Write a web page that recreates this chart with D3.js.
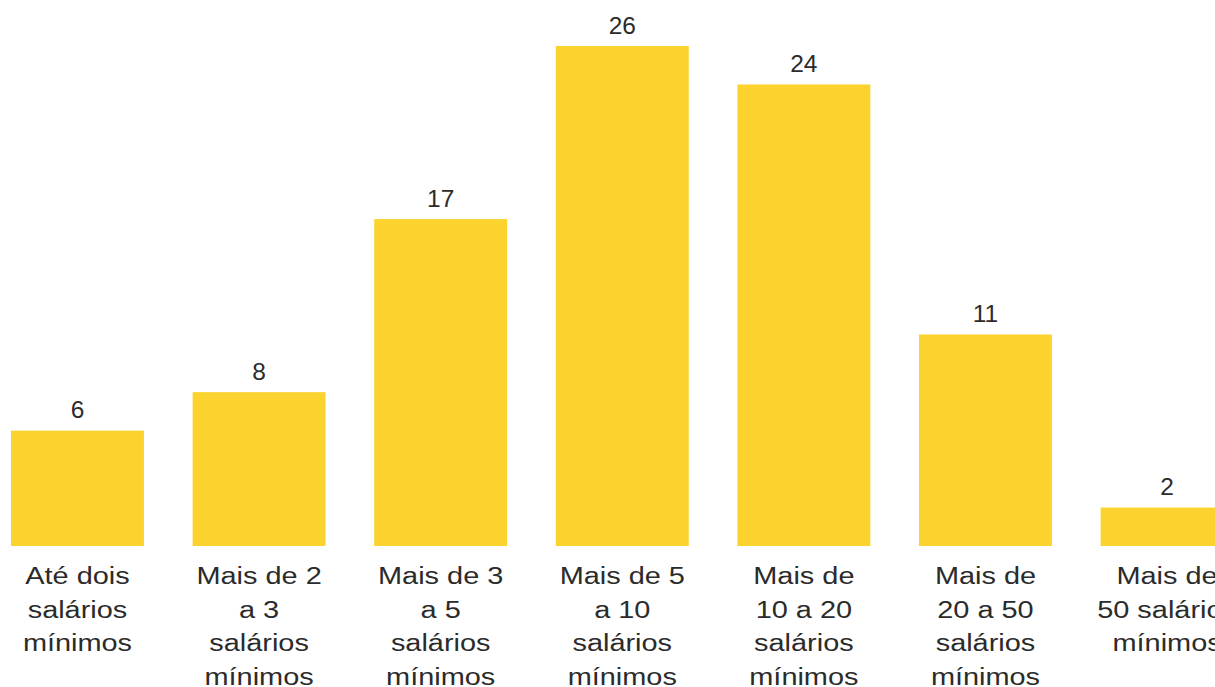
<!DOCTYPE html>
<html>
<head>
<meta charset="utf-8">
<script src="https://cdn.jsdelivr.net/npm/d3@7"></script>
<style>
  html, body { margin: 0; padding: 0; background: #ffffff; overflow: hidden; }
  svg { display: block; }
</style>
</head>
<body>
<svg id="chart" width="1215" height="687"></svg>
<script>
const categories = [
  "Até dois salários mínimos",
  "Mais de 2 a 3 salários mínimos",
  "Mais de 3 a 5 salários mínimos",
  "Mais de 5 a 10 salários mínimos",
  "Mais de 10 a 20 salários mínimos",
  "Mais de 20 a 50 salários mínimos",
  "Mais de 50 salários mínimos"
];
const labelLines = [
  ["Até dois", "salários", "mínimos"],
  ["Mais de 2", "a 3", "salários", "mínimos"],
  ["Mais de 3", "a 5", "salários", "mínimos"],
  ["Mais de 5", "a 10", "salários", "mínimos"],
  ["Mais de", "10 a 20", "salários", "mínimos"],
  ["Mais de", "20 a 50", "salários", "mínimos"],
  ["Mais de", "50 salários", "mínimos"]
];
const values = [6, 8, 17, 26, 24, 11, 2];

const svg = d3.select("#chart");
const W = 1215, H = 687;
const baseY = 546, topY = 46;
const step = 181.6;
const x0 = 11 - 0.134 * step;

const x = d3.scaleBand()
  .domain(categories)
  .range([x0, x0 + categories.length * step])
  .paddingInner(0.268)
  .paddingOuter(0.134);

const y = d3.scaleLinear()
  .domain([0, 26])
  .range([baseY, topY]);

const data = categories.map((c, i) => ({ c, v: values[i], lines: labelLines[i] }));

svg.selectAll("rect.bar")
  .data(data)
  .join("rect")
  .attr("class", "bar")
  .attr("x", d => x(d.c))
  .attr("y", d => y(d.v))
  .attr("width", x.bandwidth())
  .attr("height", d => y(0) - y(d.v))
  .attr("fill", "#fcd32e");

const font = "'Liberation Sans', Arial, Helvetica, sans-serif";

svg.selectAll("text.val")
  .data(data)
  .join("text")
  .attr("class", "val")
  .attr("x", d => x(d.c) + x.bandwidth() / 2)
  .attr("y", d => y(d.v) - 12.5)
  .attr("text-anchor", "middle")
  .attr("font-family", font)
  .attr("font-size", 24.5)
  .attr("fill", "#2b2b2b")
  .text(d => d.v);

const lab = svg.selectAll("g.lab")
  .data(data)
  .join("g")
  .attr("class", "lab")
  .attr("transform", d => `translate(${x(d.c) + x.bandwidth() / 2},0)`);

lab.each(function(d) {
  d3.select(this).selectAll("text")
    .data(d.lines)
    .join("text")
    .attr("transform", (t, i) => `translate(0,${584 + i * 33.5}) scale(1.18,1)`)
    .attr("text-anchor", "middle")
    .attr("font-family", font)
    .attr("font-size", 24.5)
    .attr("fill", "#2b2b2b")
    .text(t => t);
});
</script>
</body>
</html>
